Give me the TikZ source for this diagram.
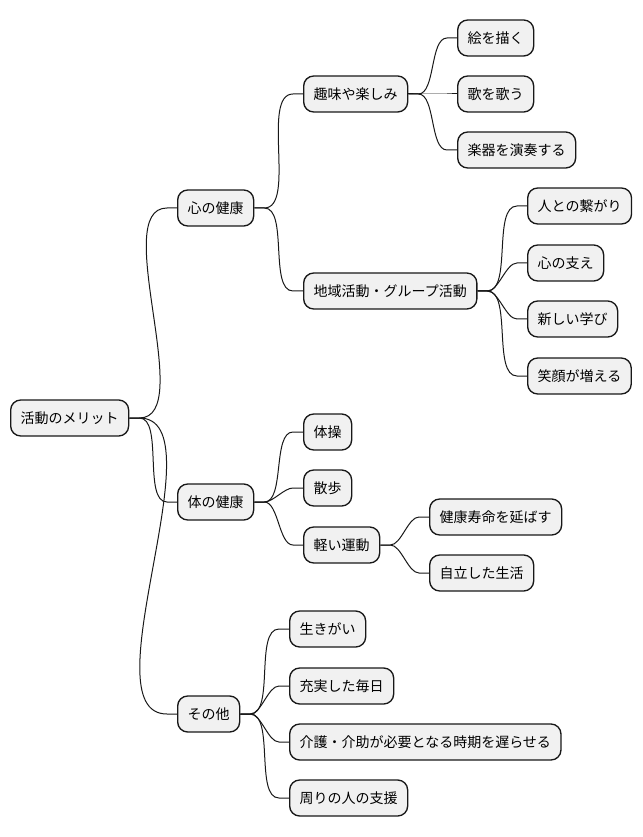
\documentclass[tikz,border=0pt]{standalone}
\usepackage{fontspec}
\usepackage{tikz}
\usetikzlibrary{calc}
\usepackage{xcolor}
\newfontfamily\jpfont{Noto Sans CJK JP}
\definecolor{boxfill}{HTML}{F1F1F1}
\definecolor{boxline}{HTML}{181818}

\begin{document}
\begin{tikzpicture}[x=0.75pt, y=-0.75pt,
    every node/.style={font=\jpfont\fontsize{10.5}{12}\selectfont},
    topic/.style={draw=boxline, fill=boxfill, line width=1pt, rounded corners=7.5pt,
        minimum height=27pt, inner xsep=7.5pt, anchor=west},
    branch/.style={draw=boxline, line width=0.75pt}]
\useasboundingbox (0,0) rectangle (642,837);

% Root
\node[topic] (root) at (10,418) {活動のメリット};

% 心の健康
\node[topic] (heart) at (177,208) {心の健康};
\node[topic] (hobby) at (303,94) {趣味や楽しみ};
\node[topic] (paint) at (457,38) {絵を描く};
\node[topic] (sing) at (457,94) {歌を歌う};
\node[topic] (music) at (457,150) {楽器を演奏する};
\node[topic] (group) at (303,291) {地域活動・グループ活動};
\node[topic] (bond) at (527,206) {人との繋がり};
\node[topic] (support) at (527,263) {心の支え};
\node[topic] (learn) at (527,319) {新しい学び};
\node[topic] (smile) at (527,376) {笑顔が増える};

% 体の健康
\node[topic] (body) at (177,502) {体の健康};
\node[topic] (gym) at (303,432) {体操};
\node[topic] (walk) at (303,488) {散歩};
\node[topic] (exercise) at (303,545) {軽い運動};
\node[topic] (longlife) at (429,517) {健康寿命を延ばす};
\node[topic] (selfcare) at (429,573) {自立した生活};

% その他
\node[topic] (other) at (177,714) {その他};
\node[topic] (ikigai) at (289,629) {生きがい};
\node[topic] (daily) at (289,686) {充実した毎日};
\node[topic] (care) at (289,742) {介護・介助が必要となる時期を遅らせる};
\node[topic] (aid) at (289,798) {周りの人の支援};

% Branches
\foreach \p/\c in {root/heart, root/body, root/other,
    heart/hobby, heart/group,
    hobby/paint, hobby/sing, hobby/music,
    group/bond, group/support, group/learn, group/smile,
    body/gym, body/walk, body/exercise,
    exercise/longlife, exercise/selfcare,
    other/ikigai, other/daily, other/care, other/aid} {
    \draw[branch] (\p.east) -- ++(10,0) to[out=0, in=180, looseness=0.7] ($(\c.west)+(-10,0)$) -- (\c.west);
}
\end{tikzpicture}
\end{document}
